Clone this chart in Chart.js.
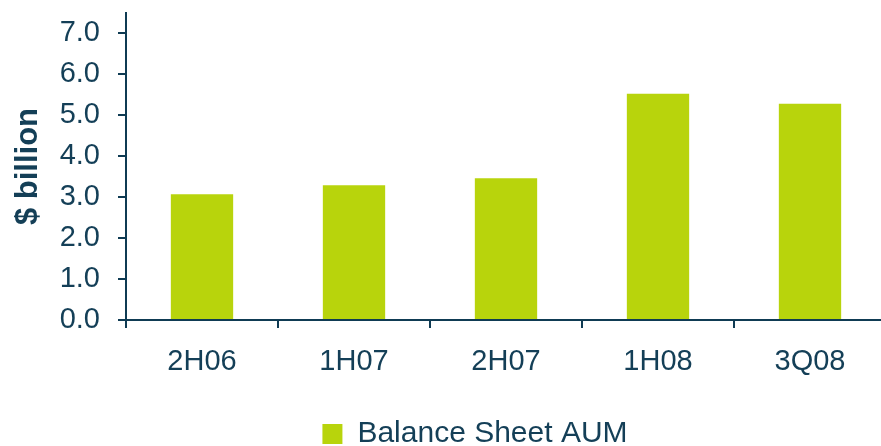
<!DOCTYPE html>
<html>
<head>
<meta charset="utf-8">
<script src="https://cdn.jsdelivr.net/npm/chart.js@4/dist/chart.umd.min.js"></script>
<style>
  html, body { margin: 0; padding: 0; background: #fff; overflow: hidden; }
  #wrap { width: 881px; height: 446px; overflow: hidden; }
</style>
</head>
<body>
<div id="wrap"><canvas id="aumChart" width="886" height="459"></canvas></div>
<script>
// Chart data
const periods = ['2H06', '1H07', '2H07', '1H08', '3Q08'];
const balanceSheetAum = [3.07, 3.29, 3.46, 5.53, 5.28];
const yTickValues = [0, 1, 2, 3, 4, 5, 6, 7];
const seriesName = 'Balance Sheet AUM';
const yTitle = '$ billion';

const textColor = '#143f57';
const axisColor = '#0f3b53';
const barColor = '#b8d40c';
const fontFamily = 'Arial, "Liberation Sans", sans-serif';

// shift legend to the right like the original
const legendShift = {
  id: 'legendShift',
  afterLayout(chart) {
    if (chart.legend) {
      chart.legend.left += 32;
      chart.legend.right += 32;
    }
  }
};

const ctx = document.getElementById('aumChart').getContext('2d');

new Chart(ctx, {
  type: 'bar',
  data: {
    labels: periods,
    datasets: [{
      label: seriesName,
      data: balanceSheetAum,
      backgroundColor: barColor,
      borderWidth: 0,
      barPercentage: 0.41,
      categoryPercentage: 1
    }]
  },
  options: {
    responsive: false,
    animation: false,
    devicePixelRatio: 1,
    layout: {
      padding: { top: 13, left: 0, right: 0, bottom: 0 }
    },
    plugins: {
      tooltip: { enabled: false },
      legend: {
        position: 'bottom',
        labels: {
          color: textColor,
          font: { family: fontFamily, size: 30 },
          boxWidth: 20,
          boxHeight: 20,
          padding: 12
        }
      }
    },
    scales: {
      x: {
        grid: {
          display: true,
          drawOnChartArea: false,
          drawTicks: true,
          tickLength: 8,
          color: axisColor,
          lineWidth: 2
        },
        border: { color: axisColor, width: 2 },
        ticks: {
          color: textColor,
          font: { family: fontFamily, size: 29 },
          padding: 17,
          maxRotation: 0
        },
        afterFit: function(scale) {
          scale.height = 87;
          scale.paddingLeft = 0;
          scale.paddingRight = 0;
        }
      },
      y: {
        min: 0,
        max: 7.5,
        grid: {
          display: true,
          drawOnChartArea: false,
          drawTicks: true,
          tickLength: 8,
          color: axisColor,
          lineWidth: 2
        },
        border: { color: axisColor, width: 2 },
        ticks: {
          color: textColor,
          font: { family: fontFamily, size: 29 },
          padding: 18,
          callback: function(value) {
            return value.toFixed(1);
          }
        },
        afterBuildTicks: function(scale) {
          scale.ticks = yTickValues.map(v => ({ value: v }));
        },
        title: {
          display: true,
          text: yTitle,
          color: textColor,
          font: { family: fontFamily, size: 31, weight: 'bold' },
          padding: { top: 10, bottom: 0 }
        },
        afterFit: function(scale) {
          scale.width = 126;
          scale.paddingTop = 0;
          scale.paddingBottom = 0;
        }
      }
    }
  },
  plugins: [legendShift]
});
</script>
</body>
</html>
